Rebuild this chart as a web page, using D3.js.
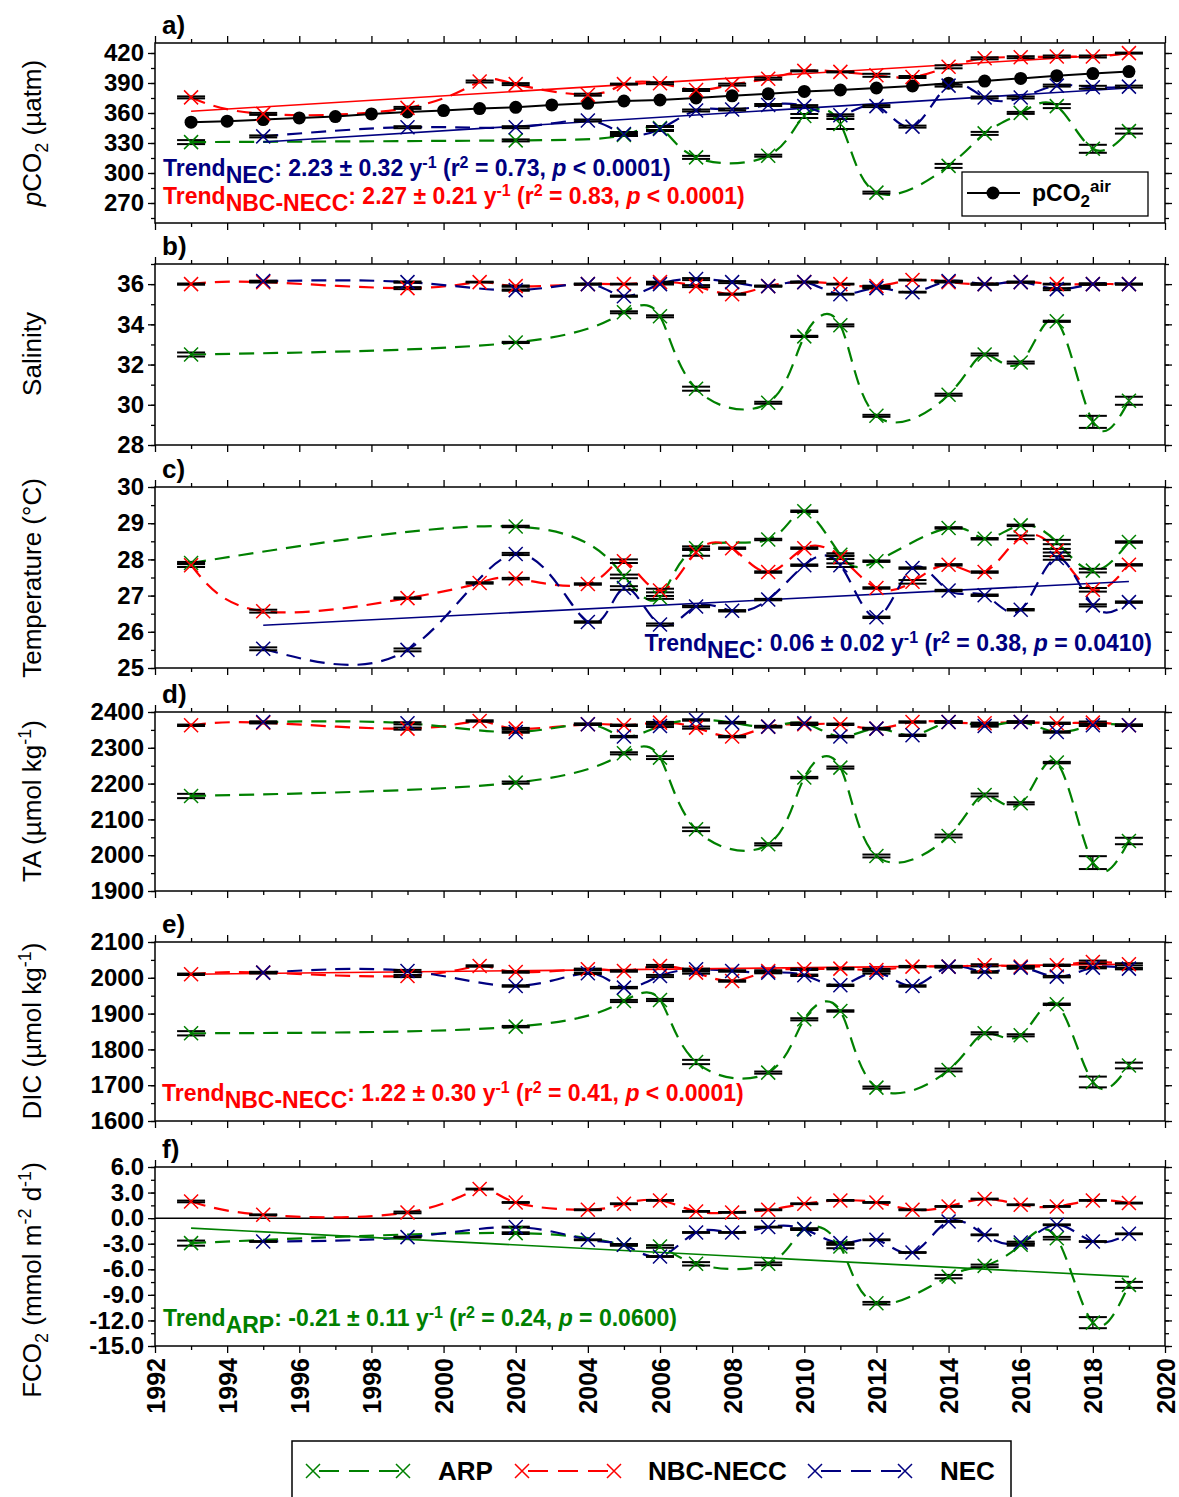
<!DOCTYPE html>
<html>
<head>
<meta charset="utf-8">
<script src="https://cdn.jsdelivr.net/npm/d3@7"></script>
<style>
  body { margin: 0; background: #fff; }
  svg text { font-family: "Liberation Sans", Arial, sans-serif; }
</style>
</head>
<body>
<svg id="chart"></svg>
<script>
// ---- years sampled per region ----
const yearsARP = [1993, 2002, 2005, 2006, 2007, 2009, 2010, 2011, 2012, 2014, 2015, 2016, 2017, 2018, 2019];
const yearsNBC = [1993, 1995, 1999, 2001, 2002, 2004, 2005, 2006, 2007, 2008, 2009, 2010, 2011, 2012, 2013, 2014, 2015, 2016, 2017, 2018, 2019];
const yearsNEC = [1995, 1999, 2002, 2004, 2005, 2006, 2007, 2008, 2009, 2010, 2011, 2012, 2013, 2014, 2015, 2016, 2017, 2018, 2019];
const yearsAir = [1993, 1994, 1995, 1996, 1997, 1998, 1999, 2000, 2001, 2002, 2003, 2004, 2005, 2006,
  2007, 2008, 2009, 2010, 2011, 2012, 2013, 2014, 2015, 2016, 2017, 2018, 2019];
const xTickYears = [1992, 1994, 1996, 1998, 2000, 2002, 2004, 2006, 2008, 2010, 2012, 2014, 2016, 2018, 2020];
const xMinorYears = [1993, 1995, 1997, 1999, 2001, 2003, 2005, 2007, 2009, 2011, 2013, 2015, 2017, 2019];

// ---- a) pCO2 (uatm) ----
const pco2ARP = [330.9, 332.6, 338, 345, 315.6, 317.3, 357, 349, 280.4, 307.1, 339.6, 360.1, 366.9, 324.2, 341.9];
const pco2ARPerr = [2, 1, 1, 2, 1.5, 1, 2, 5, 1, 2, 1.5, 1, 2, 4, 2.5];
const pco2NBC = [375.6, 359.1, 365.1, 391.5, 388.9, 378.3, 388.9, 389.8, 383.0, 388.4, 394.3, 402.1, 401.1, 397.7, 396.0, 406.2, 414.7, 415.8, 416.5, 416.5, 419.9];
const pco2NBCerr = [1, 1, 1, 1, 1, 1, 0.5, 1, 1, 1, 1, 0.5, 0.5, 1.5, 1, 1.5, 1, 1, 1, 1, 0.5];
const pco2NEC = [336.6, 345.8, 345.8, 352.5, 339, 344, 362.5, 363.5, 368, 366.9, 357.7, 366.9, 346.4, 387.4, 375.5, 375.5, 387.4, 385.7, 386.4];
const pco2NECerr = [1, 1, 1, 1, 2, 2, 1, 1, 1, 1, 1, 1, 1, 1, 1, 1, 1, 1.5, 1];
const pco2Air = [350.8, 351.8, 353.4, 355.1, 356.4, 359.1, 361.1, 362.4, 364.4, 365.7, 368.1, 369.7, 372.0, 373.0,
  375.1, 377.2, 379.2, 381.6, 383.0, 385.0, 387.1, 389.8, 391.9, 394.6, 397.3, 399.4, 401.4];
const pco2TrendNEC = [[1995, 331], [2019, 385]];
const pco2TrendNBC = [[1993, 361.7], [2019, 419.3]];

// ---- b) Salinity ----
const salARP = [32.5, 33.1, 34.6, 34.4, 30.8, 30.1, 33.4, 33.95, 29.45, 30.5, 32.5, 32.1, 34.15, 29.15, 30.2];
const salARPerr = [0.1, 0.03, 0.05, 0.05, 0.1, 0.05, 0.03, 0.05, 0.05, 0.05, 0.05, 0.05, 0.03, 0.3, 0.2];
const salNBC = [36.0, 36.1, 35.8, 36.1, 35.9, 36.0, 36.0, 36.1, 35.9, 35.5, 35.9, 36.1, 36.0, 35.9, 36.2, 36.1, 36.0, 36.1, 36.0, 36.0, 36.0];
const salNBCerr = [0.03, 0.02, 0.05, 0.02, 0.03, 0.02, 0.02, 0.02, 0.05, 0.03, 0.02, 0.02, 0.02, 0.02, 0.02, 0.02, 0.03, 0.02, 0.02, 0.03, 0.02];
const salNEC = [36.15, 36.1, 35.7, 36.0, 35.4, 36.0, 36.25, 36.1, 35.9, 36.1, 35.5, 35.8, 35.6, 36.15, 36.0, 36.1, 35.75, 36.0, 36.0];
const salNECerr = [0.02, 0.03, 0.03, 0.02, 0.03, 0.02, 0.05, 0.05, 0.02, 0.02, 0.02, 0.02, 0.02, 0.02, 0.02, 0.02, 0.05, 0.03, 0.02];

// ---- c) Temperature (degC) ----
const tempARP = [27.9, 28.91, 27.53, 26.95, 28.31, 28.55, 29.33, 28.13, 27.95, 28.87, 28.57, 28.94, 28.48, 27.69, 28.48];
const tempARPerr = [0.03, 0.02, 0.05, 0.04, 0.05, 0.02, 0.02, 0.04, 0.02, 0.02, 0.02, 0.02, 0.06, 0.05, 0.02];
const tempNBC = [27.84, 26.57, 26.93, 27.35, 27.47, 27.32, 27.95, 27.14, 28.2, 28.31, 27.65, 28.31, 28.06, 27.21, 27.38, 27.85, 27.65, 28.61, 28.24, 27.16, 27.85];
const tempNBCerr = [0.05, 0.04, 0.02, 0.02, 0.02, 0.02, 0.05, 0.05, 0.1, 0.02, 0.02, 0.02, 0.05, 0.02, 0.05, 0.02, 0.02, 0.05, 0.05, 0.05, 0.02];
const tempNEC = [25.53, 25.5, 28.15, 26.27, 27.21, 26.2, 26.7, 26.58, 26.89, 27.84, 27.84, 26.4, 27.76, 27.14, 27.01, 26.61, 28.04, 26.73, 26.82];
const tempNECerr = [0.04, 0.04, 0.03, 0.02, 0.05, 0.03, 0.02, 0.02, 0.02, 0.02, 0.05, 0.02, 0.02, 0.02, 0.02, 0.02, 0.05, 0.03, 0.02];
const tempTrendNEC = [[1995, 26.18], [2019, 27.39]];

// ---- d) TA (umol/kg) ----
const taARP = [2165.4, 2202.8, 2284.6, 2272.6, 2072.3, 2030.4, 2216.8, 2244.7, 1997.8, 2053.6, 2168.2, 2145, 2258.7, 1979.3, 2039.7];
const taARPerr = [6, 3, 3, 4, 5, 3, 2, 3, 4, 4, 4, 3, 2, 18, 9];
const taNBC = [2362.9, 2370, 2353.6, 2374.9, 2353.6, 2365.6, 2362.9, 2370.4, 2356.4, 2331.3, 2359.2, 2365.6, 2365.6, 2353.6, 2372, 2372, 2368.4, 2372, 2368.4, 2370.4, 2362.9];
const taNBCerr = [2, 2, 3, 2, 2, 2, 2, 2, 3, 2, 2, 2, 2, 2, 2, 2, 2, 2, 2, 3, 2];
const taNEC = [2372, 2368.4, 2344.1, 2365.6, 2331.3, 2361, 2377.7, 2370.4, 2359.2, 2368.4, 2331.3, 2353.6, 2334.9, 2372, 2361, 2372, 2344.1, 2362.9, 2362.9];
const taNECerr = [2, 3, 2, 2, 2, 3, 2, 2, 2, 2, 2, 2, 2, 2, 2, 2, 2, 2, 2];

// ---- e) DIC (umol/kg) ----
const dicARP = [1845, 1863.6, 1935.2, 1938, 1764.8, 1735.2, 1884.1, 1907.3, 1693.3, 1742.5, 1845, 1839.4, 1926, 1709, 1755];
const dicARPerr = [6, 2, 3, 3, 6, 3, 3, 2, 3, 4, 3, 3, 2, 15, 8];
const dicNBC = [2009.8, 2014.5, 2005, 2033, 2016.2, 2023.7, 2019, 2033, 2014.5, 1991, 2019, 2023.7, 2025.6, 2021.8, 2031.2, 2031.2, 2034.9, 2031.2, 2034.9, 2044.1, 2037.7];
const dicNBCerr = [2, 2, 3, 2, 2, 2, 2, 3, 3, 2, 2, 2, 2, 3, 2, 2, 3, 2, 2, 4, 3];
const dicNEC = [2014.5, 2019, 1977.1, 2012.6, 1972.6, 2005, 2023.7, 2019, 2014.5, 2007, 1979, 2014.5, 1977.1, 2031.2, 2016.2, 2028.4, 2003.3, 2028.4, 2025.6];
const dicNECerr = [2, 3, 2, 2, 2, 3, 2, 2, 2, 2, 2, 3, 2, 2, 2, 3, 2, 2, 2];
const dicTrendNBC = [[1993, 2010], [2019, 2038]];

// ---- f) FCO2 (mmol m-2 d-1) ----
const fco2ARP = [-2.93, -1.76, -3.13, -3.33, -5.36, -5.36, -1.29, -3.33, -9.98, -6.86, -5.6, -3.13, -2.35, -12.26, -7.83];
const fco2ARPerr = [0.3, 0.1, 0.1, 0.15, 0.2, 0.15, 0.1, 0.2, 0.15, 0.2, 0.15, 0.1, 0.15, 0.65, 0.35];
const fco2NBC = [1.96, 0.39, 0.67, 3.41, 1.84, 0.98, 1.69, 2.08, 0.79, 0.67, 0.98, 1.69, 2.08, 1.84, 0.98, 1.37, 2.24, 1.57, 1.37, 2.08, 1.77];
const fco2NBCerr = [0.1, 0.05, 0.1, 0.05, 0.05, 0.05, 0.05, 0.05, 0.05, 0.05, 0.05, 0.05, 0.05, 0.05, 0.05, 0.05, 0.05, 0.05, 0.05, 0.05, 0.05];
const fco2NEC = [-2.74, -2.23, -1.05, -2.54, -3.13, -4.5, -1.68, -1.68, -1.05, -1.29, -2.93, -2.54, -4.03, -0.39, -1.96, -2.86, -0.78, -2.74, -1.84];
const fco2NECerr = [0.05, 0.05, 0.05, 0.05, 0.05, 0.05, 0.05, 0.05, 0.05, 0.05, 0.1, 0.05, 0.05, 0.05, 0.05, 0.1, 0.05, 0.05, 0.05];
const fco2TrendARP = [[1993, -1.17], [2019, -6.86]];

// ---- drawing ----
const GREEN = '#008000', RED = '#ff0000', NAVY = '#000080';
const FONT = '"Liberation Sans", Arial, sans-serif';
const W = 1179, H = 1497;
const X0 = 155, X1 = 1165;

const svg = d3.select('#chart').attr('width', W).attr('height', H);
const x = d3.scaleLinear().domain([1992, 2020]).range([X0, X1]);

const zip = (years, vals, errs) => years.map((yr, i) => ({ yr, v: vals[i], e: errs ? errs[i] : 0 }));

// tspans with sub/superscripts
const rich = (text, parts) => {
  let shift = 0;
  parts.forEach(p => {
    const target = p.sub ? p.sub : (p.sup ? -p.sup : 0);
    const ts = text.append('tspan').attr('dy', target - shift).text(p.t);
    if (p.size) ts.attr('font-size', p.size);
    if (p.it) ts.attr('font-style', 'italic');
    shift = target;
  });
};

const panels = [
  { label: 'a)', top: 43, bottom: 223, domain: [250, 430],
    major: d3.range(270, 421, 30), minor: d3.range(255, 431, 15), fmt: d3.format('d'),
    titleY: 133,
    title: [{ t: 'p', it: 1 }, { t: 'CO' }, { t: '2', sub: 7, size: 18 }, { t: ' (µatm)' }],
    arp: [pco2ARP, pco2ARPerr], nbc: [pco2NBC, pco2NBCerr], nec: [pco2NEC, pco2NECerr], necLine: NAVY,
    trends: [{ pts: pco2TrendNBC, color: RED }, { pts: pco2TrendNEC, color: NAVY }] },
  { label: 'b)', top: 264, bottom: 445, domain: [28, 37],
    major: d3.range(28, 36.01, 2), minor: d3.range(28, 37.01, 1), fmt: d3.format('d'),
    titleY: 354, title: [{ t: 'Salinity' }],
    arp: [salARP, salARPerr], nbc: [salNBC, salNBCerr], nec: [salNEC, salNECerr], necLine: NAVY, trends: [] },
  { label: 'c)', top: 487, bottom: 668, domain: [25, 30],
    major: d3.range(25, 30.01, 1), minor: d3.range(25, 30.01, 0.5), fmt: d3.format('d'),
    titleY: 578, title: [{ t: 'Temperature (°C)' }],
    arp: [tempARP, tempARPerr], nbc: [tempNBC, tempNBCerr], nec: [tempNEC, tempNECerr], necLine: NAVY,
    trends: [{ pts: tempTrendNEC, color: NAVY }] },
  { label: 'd)', top: 712, bottom: 891, domain: [1900, 2400],
    major: d3.range(1900, 2401, 100), minor: d3.range(1900, 2401, 50), fmt: d3.format('d'),
    titleY: 801, title: [{ t: 'TA (µmol kg' }, { t: '-1', sup: 10, size: 18 }, { t: ')' }],
    arp: [taARP, taARPerr], nbc: [taNBC, taNBCerr], nec: [taNEC, taNECerr], necLine: GREEN, trends: [] },
  { label: 'e)', top: 942, bottom: 1121, domain: [1600, 2100],
    major: d3.range(1600, 2101, 100), minor: d3.range(1600, 2101, 50), fmt: d3.format('d'),
    titleY: 1031, title: [{ t: 'DIC (µmol kg' }, { t: '-1', sup: 10, size: 18 }, { t: ')' }],
    arp: [dicARP, dicARPerr], nbc: [dicNBC, dicNBCerr], nec: [dicNEC, dicNECerr], necLine: NAVY,
    trends: [{ pts: dicTrendNBC, color: RED }] },
  { label: 'f)', top: 1167, bottom: 1346, domain: [-15, 6],
    major: d3.range(-15, 6.01, 3), minor: d3.range(-15, 6.01, 1.5), fmt: v => v.toFixed(1),
    titleY: 1280,
    title: [{ t: 'FCO' }, { t: '2', sub: 7, size: 18 }, { t: ' (mmol m', sub: 0.0001 }, { t: '-2', sup: 10, size: 18 },
      { t: ' d' }, { t: '-1', sup: 10, size: 18 }, { t: ')' }],
    arp: [fco2ARP, fco2ARPerr], nbc: [fco2NBC, fco2NBCerr], nec: [fco2NEC, fco2NECerr], necLine: NAVY,
    trends: [{ pts: fco2TrendARP, color: GREEN }], zero: true, xLabels: true }
];

const noDomain = g => g.select('.domain').remove();
const styleTicks = g => g.selectAll('line').attr('stroke-width', 1.3);

panels.forEach((p, pi) => {
  const y = d3.scaleLinear().domain(p.domain).range([p.bottom, p.top]);
  const g = svg.append('g');

  const clipId = `clip${pi}`;
  svg.append('clipPath').attr('id', clipId).append('rect')
    .attr('x', X0).attr('y', p.top).attr('width', X1 - X0).attr('height', p.bottom - p.top);

  // axes
  g.append('g').attr('transform', `translate(${X0},0)`)
    .call(d3.axisLeft(y).tickValues(p.minor).tickSize(4).tickFormat(''))
    .call(noDomain).call(styleTicks);
  g.append('g').attr('transform', `translate(${X0},0)`)
    .call(d3.axisLeft(y).tickValues(p.major).tickSize(7).tickPadding(4).tickFormat(p.fmt))
    .call(noDomain).call(styleTicks)
    .call(a => a.selectAll('text').attr('font-size', 24).attr('font-weight', 'bold')
      .attr('font-family', FONT).attr('fill', '#000'));
  g.append('g').attr('transform', `translate(${X1},0)`)
    .call(d3.axisRight(y).tickValues(p.minor).tickSize(4).tickFormat(''))
    .call(noDomain).call(styleTicks);
  g.append('g').attr('transform', `translate(${X1},0)`)
    .call(d3.axisRight(y).tickValues(p.major).tickSize(7).tickFormat(''))
    .call(noDomain).call(styleTicks);
  g.append('g').attr('transform', `translate(0,${p.top})`)
    .call(d3.axisTop(x).tickValues(xTickYears).tickSize(7).tickFormat(''))
    .call(noDomain).call(styleTicks);
  g.append('g').attr('transform', `translate(0,${p.top})`)
    .call(d3.axisTop(x).tickValues(xMinorYears).tickSize(4).tickFormat(''))
    .call(noDomain).call(styleTicks);
  g.append('g').attr('transform', `translate(0,${p.bottom})`)
    .call(d3.axisBottom(x).tickValues(xMinorYears).tickSize(4).tickFormat(''))
    .call(noDomain).call(styleTicks);
  const bottomAxis = g.append('g').attr('transform', `translate(0,${p.bottom})`)
    .call(d3.axisBottom(x).tickValues(xTickYears).tickSize(7)
      .tickFormat(p.xLabels ? d3.format('d') : ''))
    .call(noDomain).call(styleTicks);
  if (p.xLabels) {
    bottomAxis.selectAll('text')
      .attr('transform', 'rotate(-90)')
      .attr('text-anchor', 'end')
      .attr('x', -12).attr('y', 0).attr('dy', '0.36em')
      .attr('font-size', 25).attr('font-weight', 'bold')
      .attr('font-family', FONT).attr('fill', '#000');
  }

  // frame
  g.append('rect').attr('x', X0).attr('y', p.top)
    .attr('width', X1 - X0).attr('height', p.bottom - p.top)
    .attr('fill', 'none').attr('stroke', '#000').attr('stroke-width', 1.5);

  // panel letter and axis title
  g.append('text').attr('x', 162).attr('y', p.top - 9)
    .attr('font-size', 26).attr('font-weight', 'bold').text(p.label);
  const title = g.append('text')
    .attr('transform', `translate(41,${p.titleY}) rotate(-90)`)
    .attr('text-anchor', 'middle').attr('font-size', 26);
  rich(title, p.title);

  if (p.zero) {
    g.append('line').attr('x1', X0).attr('x2', X1)
      .attr('y1', y(0)).attr('y2', y(0))
      .attr('stroke', '#000').attr('stroke-width', 1.5);
  }

  const series = [
    { pts: zip(yearsARP, p.arp[0], p.arp[1]), color: GREEN, line: GREEN },
    { pts: zip(yearsNBC, p.nbc[0], p.nbc[1]), color: RED, line: RED },
    { pts: zip(yearsNEC, p.nec[0], p.nec[1]), color: NAVY, line: p.necLine }
  ];

  const curve = d3.line().x(d => x(d.yr)).y(d => y(d.v)).curve(d3.curveNatural);
  const plot = g.append('g').attr('clip-path', `url(#${clipId})`);

  series.forEach(s => {
    plot.append('path').datum(s.pts)
      .attr('d', curve)
      .attr('fill', 'none')
      .attr('stroke', s.line)
      .attr('stroke-width', 2.2)
      .attr('stroke-dasharray', '15,9');
  });

  p.trends.forEach(t => {
    plot.append('line')
      .attr('x1', x(t.pts[0][0])).attr('y1', y(t.pts[0][1]))
      .attr('x2', x(t.pts[1][0])).attr('y2', y(t.pts[1][1]))
      .attr('stroke', t.color).attr('stroke-width', 1.6);
  });

  // air pCO2 series
  if (pi === 0) {
    const air = zip(yearsAir, pco2Air);
    plot.append('path').datum(air)
      .attr('d', d3.line().x(d => x(d.yr)).y(d => y(d.v)))
      .attr('fill', 'none').attr('stroke', '#000').attr('stroke-width', 2);
    plot.selectAll('.airdot').data(air).enter().append('circle')
      .attr('cx', d => x(d.yr)).attr('cy', d => y(d.v)).attr('r', 6.5).attr('fill', '#000');
  }

  series.forEach(s => {
    const eb = plot.append('g').selectAll('g').data(s.pts).enter().append('g')
      .attr('stroke', '#000');
    eb.append('line')
      .attr('x1', d => x(d.yr)).attr('x2', d => x(d.yr))
      .attr('y1', d => y(d.v - d.e)).attr('y2', d => y(d.v + d.e))
      .attr('stroke-width', 1.3);
    [-1, 1].forEach(sg => {
      eb.append('line')
        .attr('x1', d => x(d.yr) - 14).attr('x2', d => x(d.yr) + 14)
        .attr('y1', d => y(d.v + sg * d.e)).attr('y2', d => y(d.v + sg * d.e))
        .attr('stroke-width', 2);
    });
  });

  series.forEach(s => {
    plot.append('g').selectAll('path').data(s.pts).enter().append('path')
      .attr('transform', d => `translate(${x(d.yr)},${y(d.v)})`)
      .attr('d', 'M-7,-7L7,7M-7,7L7,-7')
      .attr('stroke', s.color).attr('stroke-width', 1.5).attr('fill', 'none');
  });
});

// ---- trend annotations ----
const trendText = (tx, ty, color, parts, anchor) => {
  const t = svg.append('text').attr('x', tx).attr('y', ty)
    .attr('fill', color).attr('font-size', 23).attr('font-weight', 'bold')
    .attr('text-anchor', anchor || 'start');
  rich(t, parts);
};
const stat = (sub, slope, r2, pTxt) => [
  { t: 'Trend' }, { t: sub, sub: 7 }, { t: `: ${slope} y`, sub: 0.0001 },
  { t: '-1', sup: 8, size: 16 }, { t: ' (r' }, { t: '2', sup: 8, size: 16 },
  { t: ` = ${r2}, ` }, { t: 'p', it: 1 }, { t: ` ${pTxt})` }
];
trendText(163, 176, NAVY, stat('NEC', '2.23 ± 0.32', '0.73', '< 0.0001'));
trendText(163, 204, RED, stat('NBC-NECC', '2.27 ± 0.21', '0.83', '< 0.0001'));
trendText(1152, 651, NAVY, stat('NEC', '0.06 ± 0.02', '0.38', '= 0.0410'), 'end');
trendText(162, 1101, RED, stat('NBC-NECC', '1.22 ± 0.30', '0.41', '< 0.0001'));
trendText(163, 1326, GREEN, stat('ARP', '-0.21 ± 0.11', '0.24', '= 0.0600'));

// ---- pCO2 air legend (panel a) ----
const airLeg = svg.append('g');
airLeg.append('rect').attr('x', 962).attr('y', 172).attr('width', 186).attr('height', 44)
  .attr('fill', '#fff').attr('stroke', '#000').attr('stroke-width', 1.3);
airLeg.append('line').attr('x1', 967).attr('x2', 1020).attr('y1', 193).attr('y2', 193)
  .attr('stroke', '#000').attr('stroke-width', 2);
airLeg.append('circle').attr('cx', 993).attr('cy', 193).attr('r', 6.5).attr('fill', '#000');
const airTxt = airLeg.append('text').attr('x', 1032).attr('y', 201)
  .attr('font-size', 23).attr('font-weight', 'bold');
rich(airTxt, [{ t: 'pCO' }, { t: '2', sub: 6, size: 17 }, { t: 'air', sup: 9, size: 17 }]);

// ---- bottom legend ----
const legItems = [
  { name: 'ARP', color: GREEN, x1: 313, x2: 403, tx: 438 },
  { name: 'NBC-NECC', color: RED, x1: 522, x2: 614, tx: 648 },
  { name: 'NEC', color: NAVY, x1: 815, x2: 905, tx: 940 }
];
const leg = svg.append('g');
leg.append('rect').attr('x', 292).attr('y', 1441).attr('width', 719).attr('height', 80)
  .attr('fill', '#fff').attr('stroke', '#000').attr('stroke-width', 1.5);
const li = leg.selectAll('.item').data(legItems).enter().append('g');
li.append('line')
  .attr('x1', d => d.x1).attr('x2', d => d.x2).attr('y1', 1471).attr('y2', 1471)
  .attr('stroke', d => d.color).attr('stroke-width', 2.2).attr('stroke-dasharray', '20,10')
  .attr('stroke-dashoffset', -6);
['x1', 'x2'].forEach(k => {
  li.append('path')
    .attr('transform', d => `translate(${d[k]},1471)`)
    .attr('d', 'M-7,-7L7,7M-7,7L7,-7')
    .attr('stroke', d => d.color).attr('stroke-width', 1.5);
});
li.append('text').attr('x', d => d.tx).attr('y', 1480)
  .attr('font-size', 26).attr('font-weight', 'bold').text(d => d.name);
</script>
</body>
</html>
